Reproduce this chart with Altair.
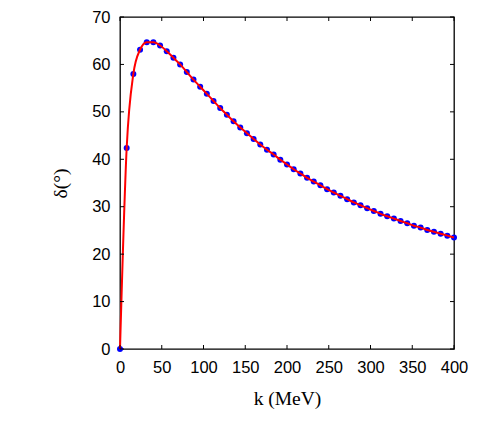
import altair as alt
import pandas as pd

k_vals = list(range(0, 401, 8))
delta_vals = [0.0, 42.4, 58.0, 63.1, 64.7, 64.7, 64.0, 62.8, 61.4, 60.0,
              58.4, 56.8, 55.3, 53.8, 52.3, 50.8, 49.4, 48.0, 46.7, 45.5,
              44.3, 43.1, 42.0, 41.0, 39.9, 38.9, 37.9, 37.0, 36.1, 35.3,
              34.5, 33.7, 33.0, 32.3, 31.6, 30.9, 30.3, 29.7, 29.1, 28.5,
              28.0, 27.5, 27.0, 26.5, 26.0, 25.6, 25.1, 24.7, 24.3, 23.9, 23.5]
x_ticks = [0, 50, 100, 150, 200, 250, 300, 350, 400]
y_ticks = [0, 10, 20, 30, 40, 50, 60, 70]

W, H = 334, 332
df = pd.DataFrame({"k": k_vals, "d": delta_vals})
xt = pd.DataFrame({"t": x_ticks})
yt = pd.DataFrame({"t": y_ticks})

xs = alt.Scale(domain=[0, 400], nice=False, zero=False)
ys = alt.Scale(domain=[0, 70], nice=False, zero=False)

tick_font = "Liberation Sans"
title_font = "Liberation Serif"

x_axis = alt.Axis(values=x_ticks, title="k (MeV)", domain=False, ticks=False, grid=False,
                  labelFont=tick_font, labelFontSize=16.5, labelColor="black", labelPadding=10,
                  labelFlush=False, labelOverlap=False,
                  titleFont=title_font, titleFontSize=19.5, titleFontWeight="normal",
                  titleColor="black", titlePadding=14)
y_axis = alt.Axis(values=y_ticks, title="δ(°)", domain=False, ticks=False, grid=False,
                  labelFont=tick_font, labelFontSize=16.5, labelColor="black", labelPadding=10,
                  labelFlush=False, labelOverlap=False,
                  titleFont=title_font, titleFontSize=19.5, titleFontWeight="normal",
                  titleColor="black", titlePadding=21)

points = alt.Chart(df).mark_circle(color="#0000ff", opacity=1, size=36).encode(
    x=alt.X("k:Q", scale=xs, axis=x_axis),
    y=alt.Y("d:Q", scale=ys, axis=y_axis),
)
line = alt.Chart(df).mark_line(color="#ff0000", strokeWidth=2, interpolate="monotone").encode(
    x=alt.X("k:Q", scale=xs),
    y=alt.Y("d:Q", scale=ys),
)

tl = 4
bt = alt.Chart(xt).mark_rule(color="black", strokeWidth=1).encode(
    x=alt.X("t:Q", scale=xs), y=alt.value(H), y2=alt.value(H - tl))
tt = alt.Chart(xt).mark_rule(color="black", strokeWidth=1).encode(
    x=alt.X("t:Q", scale=xs), y=alt.value(0), y2=alt.value(tl))
lt = alt.Chart(yt).mark_rule(color="black", strokeWidth=1).encode(
    y=alt.Y("t:Q", scale=ys), x=alt.value(0), x2=alt.value(tl))
rt = alt.Chart(yt).mark_rule(color="black", strokeWidth=1).encode(
    y=alt.Y("t:Q", scale=ys), x=alt.value(W), x2=alt.value(W - tl))

chart = alt.layer(points, line, bt, tt, lt, rt).properties(
    width=W, height=H,
    background="white",
    autosize=alt.AutoSizeParams(type="none"),
    padding={"left": 112, "top": 9, "right": 20, "bottom": 78},
).configure_view(stroke="black", strokeWidth=1.3)

chart.save("out.html", embed_options={"renderer": "svg", "actions": False})
